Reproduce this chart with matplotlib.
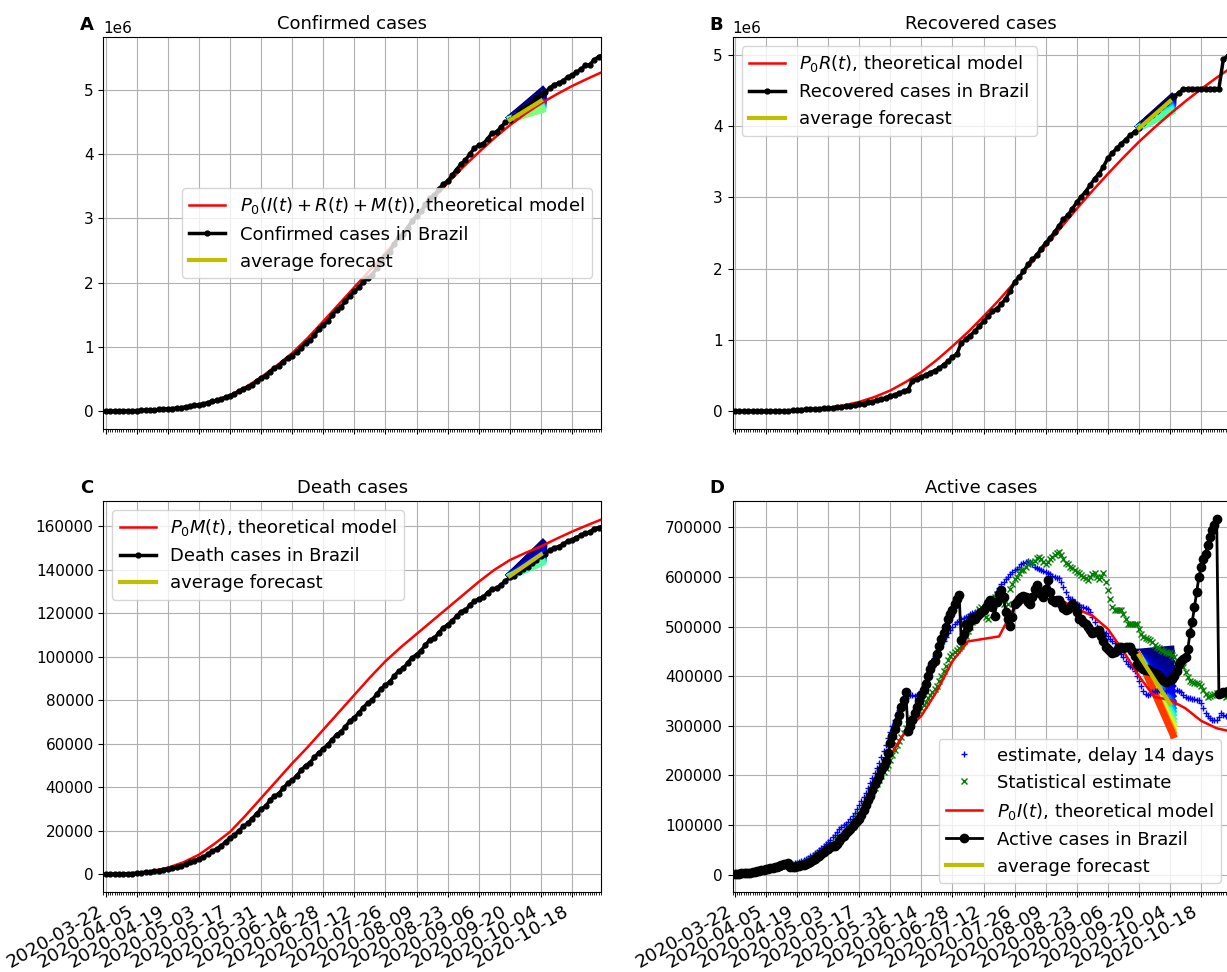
import matplotlib
matplotlib.use('Agg')
import matplotlib.pyplot as plt
import matplotlib.dates as mdates
from matplotlib import cm
import numpy as np

plt.rcParams['font.family'] = ['DejaVu Sans']
plt.rcParams['font.size'] = 11
plt.rcParams['axes.titlesize'] = 13
plt.rcParams['legend.fontsize'] = 13
plt.rcParams['xtick.labelsize'] = 13.3
plt.rcParams['ytick.labelsize'] = 11

start = np.datetime64('2020-03-22')
ticks_labels = ['2020-03-22', '2020-04-05', '2020-04-19', '2020-05-03', '2020-05-17',
                '2020-05-31', '2020-06-14', '2020-06-28', '2020-07-12', '2020-07-26',
                '2020-08-09', '2020-08-23', '2020-09-06', '2020-09-20', '2020-10-04',
                '2020-10-18']

# ---- Confirmed cases (every 2 days from 2020-03-22, thousands)
confirmed = [1.5, 2.2, 2.9, 3.9, 4.6, 6.8, 9.1, 11.1, 13.7, 17.9, 20.7, 23.4, 28.3, 33.7,
             38.7, 43.1, 49.5, 58.5, 66.5, 78.2, 91.6, 101.1, 114.7, 135.1, 155.9, 168.3,
             189.0, 218.2, 241.1, 271.6, 310.1, 347.4, 374.9, 411.8, 465.2, 514.8, 555.4,
             614.9, 672.8, 707.4, 772.4, 828.8, 867.6, 923.2, 978.1, 1067.6, 1106.5, 1188.6,
             1275.0, 1344.1, 1402.0, 1496.9, 1577.0, 1623.3, 1713.2, 1800.8, 1864.7, 1926.8,
             2012.2, 2074.9, 2118.6, 2227.5, 2343.4, 2419.1, 2483.2, 2610.1, 2707.9, 2750.3,
             2859.1, 2962.4, 3035.4, 3109.6, 3224.9, 3317.1, 3359.6, 3456.7, 3532.3, 3582.4,
             3670.0, 3761.4, 3846.2, 3908.3, 4001.4, 4091.8, 4137.5, 4162.1, 4238.4, 4330.5,
             4345.6, 4419.1, 4495.2, 4528.2, 4591.4, 4657.7, 4718.0, 4745.5, 4810.9, 4880.5,
             4915.3, 4969.1, 5028.4, 5082.6, 5103.4, 5140.9, 5200.3, 5224.4, 5274.0, 5323.6,
             5380.6, 5394.1, 5468.3, 5516.7, 5545.7]
# model, weekly (millions)
model_conf = [0.002, 0.005, 0.011, 0.021, 0.038, 0.062, 0.100, 0.160, 0.250, 0.375, 0.530,
              0.710, 0.905, 1.140, 1.400, 1.665, 1.930, 2.195, 2.460, 2.740, 3.020, 3.290,
              3.550, 3.800, 4.030, 4.250, 4.450, 4.630, 4.790, 4.930, 5.060, 5.175, 5.285]

# ---- Recovered cases (every 2 days, thousands)
recovered = [0, 0, 0, 0, 0, 0, 0, 0, 0, 0, 0, 0, 0, 14, 22, 23, 25, 27, 31, 36, 40, 43, 46,
             52, 62, 67, 73, 90, 94, 107, 127, 135, 150, 165, 190, 215, 230, 255, 280, 300,
             430, 455, 480, 510, 540, 570, 600, 650, 700, 760, 800, 960, 1010, 1060, 1120,
             1190, 1260, 1330, 1400, 1440, 1500, 1580, 1690, 1810, 1880, 1960, 2060, 2130,
             2190, 2280, 2360, 2430, 2510, 2600, 2690, 2750, 2840, 2930, 3010, 3080, 3170,
             3260, 3330, 3430, 3550, 3620, 3690, 3750, 3810, 3870, 3920, 3970, 4040, 4110,
             4160, 4210, 4270, 4330, 4380, 4420, 4470, 4520, 4526, 4526, 4526, 4526, 4526,
             4526, 4526, 4526, 4940, 4980, 5000]
model_rec = [0.0, 0.001, 0.004, 0.008, 0.016, 0.028, 0.048, 0.08, 0.13, 0.20, 0.29, 0.41,
             0.55, 0.72, 0.91, 1.11, 1.33, 1.56, 1.81, 2.06, 2.32, 2.58, 2.84, 3.09, 3.33,
             3.56, 3.78, 3.98, 4.17, 4.35, 4.52, 4.68, 4.83]

# ---- Deaths (every 2 days)
deaths = [25, 46, 77, 114, 159, 241, 359, 486, 667, 950, 1124, 1328, 1736, 2141, 2462, 2741,
          3313, 4016, 4543, 5466, 6329, 7025, 7921, 9146, 10627, 11519, 13149, 14817, 16792,
          17971, 20047, 22013, 23473, 25598, 27878, 29937, 31199, 34021, 35930, 37134, 39680,
          41828, 43332, 45241, 47748, 49976, 51271, 53830, 55961, 57622, 59594, 61884, 64265,
          65487, 67964, 70398, 72100, 74133, 76688, 78772, 80120, 82771, 85238, 87004, 88539,
          91263, 93563, 94665, 97256, 99572, 101049, 102817, 105463, 107852, 108536, 111100,
          113358, 114744, 116580, 118649, 120828, 121381, 123780, 125502, 126650, 127464,
          129522, 131210, 131625, 133119, 135031, 136532, 137272, 139065, 140537, 141406,
          143010, 144680, 146352, 147494, 148957, 150198, 150689, 151747, 153214, 153675,
          154837, 155900, 156903, 157397, 158969, 159477, 160074]
# model weekly (thousands)
model_death = [0.05, 0.2, 0.6, 1.5, 3.0, 5.5, 9.0, 14, 19.5, 27, 35, 43, 51, 58.5, 66.5, 74.5,
               82.5, 90.5, 98, 104.5, 110.5, 116.5, 122.5, 128.5, 134.5, 140, 144.5, 147.8,
               150.8, 154.3, 157.6, 160.6, 163.5]

# ---- Active cases (daily, thousands)
active = [1.5, 1.9, 2.2, 2.6, 2.9, 3.5, 3.9, 4.3, 4.6, 5.8,
          6.8, 7.9, 9.0, 10.0, 10.8, 11.8, 12.8, 14.0, 15.2, 16.5,
          18.0, 19.5, 21.0, 22.5, 23.5, 15.5, 15.0, 16.0, 17.5, 17.0,
          19.0, 20.5, 22.0, 24.0, 26.0, 29.0, 32.0, 35.0, 38.0, 42.0,
          46, 50, 52, 55, 58, 57, 62, 68, 73, 78,
          84, 88, 93, 99, 105, 109, 113, 121, 130, 140,
          150, 158, 170, 182, 190, 198, 210, 218, 230, 245,
          265, 280, 294, 308, 322, 337, 352, 369, 290, 300,
          312, 325, 338, 350, 362, 372, 385, 400, 415, 425,
          431, 445, 460, 475, 486, 500, 515, 525, 533, 545,
          555, 563, 472, 485, 506, 500, 512, 518, 515, 522,
          526, 530, 533, 540, 548, 553, 540, 522, 550, 565,
          573, 560, 530, 515, 502, 520, 546, 550, 555, 559,
          562, 559, 550, 546, 560, 575, 583, 570, 565, 559,
          575, 593, 570, 553, 550, 553, 553, 545, 538, 533,
          535, 540, 546, 540, 530, 516, 515, 510, 506, 498,
          492, 486, 488, 490, 492, 480, 470, 459, 455, 450,
          446, 448, 452, 459, 458, 456, 458, 459, 459, 450,
          440, 425, 420, 418, 415, 412, 414, 410, 408, 406,
          405, 400, 396, 392, 388, 390, 393, 395, 400, 410,
          425, 430, 435, 438, 455, 486, 510, 539, 570, 600,
          620, 635, 647, 665, 680, 694, 705, 717, 365, 367,
          368, 369, 370, 371, 372]
estimate_delay = [2, 2.5, 3, 3.5, 4, 4.5, 5, 6, 7, 8,
                  9, 10, 11, 12, 13, 14, 15, 16.5, 18, 19.5,
                  21, 22, 23, 24, 24, 23, 22, 23, 24, 26,
                  28, 30, 32, 34, 37, 40, 43, 46, 50, 54,
                  58, 62, 66, 70, 75, 80, 86, 92, 97, 100,
                  102, 106, 112, 118, 125, 132, 140, 148, 156, 165,
                  175, 185, 195, 205, 215, 225, 238, 250, 262, 275,
                  288, 300, 312, 322, 332, 340, 348, 355, 360, 362,
                  362, 360, 362, 365, 370, 380, 392, 405, 418, 430,
                  440, 450, 458, 465, 470, 478, 486, 492, 500, 505,
                  510, 512, 515, 518, 520, 522, 525, 528, 530, 532,
                  530, 528, 535, 540, 545, 550, 555, 562, 570, 578,
                  585, 590, 595, 600, 605, 610, 613, 616, 620, 625,
                  628, 630, 632, 630, 625, 620, 618, 615, 613, 612,
                  610, 608, 605, 602, 600, 598, 597, 590, 580, 570,
                  560, 555, 555, 550, 545, 543, 540, 539, 538, 535,
                  530, 520, 510, 500, 495, 490, 488, 486, 480, 475,
                  470, 466, 460, 452, 445, 438, 430, 425, 420, 418,
                  410, 400, 391, 380, 370, 365, 362, 365, 368, 370,
                  371, 372, 371, 370, 371, 372, 371, 370, 371, 372,
                  371, 368, 362, 358, 356, 355, 354, 353, 352, 351,
                  345, 335, 325, 320, 315, 312, 311, 312, 318, 325,
                  322, 320, 318, 317, 316]
statistical = [1, 1.5, 2, 2.5, 3, 3.5, 4, 4.5, 5, 5.5,
               6, 7, 8, 9, 10, 11, 12, 13, 14, 15,
               16, 17, 18, 19, 20, 20, 19, 19, 20, 21,
               22, 24, 26, 28, 30, 32, 35, 38, 41, 44,
               47, 50, 53, 56, 60, 64, 68, 72, 77, 82,
               87, 92, 98, 104, 110, 116, 122, 128, 135, 142,
               150, 158, 166, 174, 182, 190, 198, 206, 214, 222,
               232, 242, 252, 262, 270, 278, 286, 295, 303, 311,
               316, 320, 325, 330, 336, 342, 348, 355, 362, 368,
               374, 380, 390, 400, 410, 420, 432, 440, 445, 448,
               452, 456, 460, 470, 480, 490, 500, 510, 520, 528,
               535, 540, 530, 520, 515, 539, 550, 560, 566, 560,
               566, 545, 530, 545, 575, 586, 595, 600, 608, 613,
               613, 620, 625, 630, 628, 632, 637, 640, 635, 630,
               625, 630, 636, 640, 645, 648, 650, 645, 635, 628,
               625, 620, 618, 614, 610, 607, 603, 600, 597, 593,
               600, 605, 607, 600, 595, 600, 607, 590, 573, 555,
               540, 533, 533, 533, 533, 525, 515, 506, 506, 506,
               506, 506, 495, 485, 479, 477, 475, 472, 468, 463,
               459, 456, 453, 450, 448, 447, 446, 442, 438, 432,
               428, 425, 418, 408, 398, 391, 389, 387, 386, 385,
               380, 372, 365, 358, 360, 363, 365, 366, 367, 368,
               363, 358, 360, 362, 364]
model_active = [1, 3, 7, 12, 18, 28, 45, 72, 115, 170, 240, 290, 320, 370, 430, 470, 475,
                480, 540, 555, 566, 553, 535, 522, 495, 450, 400, 358, 352, 335, 310, 295, 288]

# ---- forecasts: day range, average start/end, common start, fan ends (top -> bottom)
fc_days = [181, 198]
fc_conf_avg = [4.53, 4.83]
fc_conf_start = 4.53
fc_conf_ends = [5.03, 5.01, 4.99, 4.97, 4.95, 4.93, 4.91, 4.89, 4.87, 4.85, 4.83, 4.81,
                4.79, 4.77, 4.75, 4.73, 4.71]
fc_rec_avg = [3.97, 4.35]
fc_rec_start = 3.96
fc_rec_ends = [4.44, 4.43, 4.42, 4.41, 4.40, 4.39, 4.38, 4.37, 4.36, 4.35, 4.34, 4.33,
               4.31, 4.29, 4.27, 4.25, 4.22]
fc_death_avg = [137.2, 147.1]
fc_death_start = 136.5
fc_death_ends = [153.5, 153.0, 152.4, 151.8, 151.2, 150.6, 150.0, 149.4, 148.8, 148.2, 147.6,
                 147.0, 146.4, 145.8, 145.2, 144.6, 144.0]
fc_act_avg = [442, 344]
fc_act_start = 448
fc_act_ends = [455, 445, 435, 425, 415, 405, 395, 385, 375, 365, 355, 345, 338, 331, 324,
               317, 310, 303, 296, 289, 282, 275]


def days(n, step):
    return start + np.arange(n) * np.timedelta64(step, 'D')


def draw_fan(ax, y0, ends, scale, cmax):
    n = len(ends)
    cpos = np.linspace(0, 1, n) ** 2.5 * cmax
    x = [start + np.timedelta64(fc_days[0], 'D'), start + np.timedelta64(fc_days[1], 'D')]
    for i, e in enumerate(ends):
        ax.plot(x, [y0 * scale, e * scale], color=cm.jet(cpos[i]), lw=5,
                solid_capstyle='butt')


def draw_avg(ax, vals, scale):
    x = [start + np.timedelta64(fc_days[0] + 1, 'D'), start + np.timedelta64(fc_days[1] - 2, 'D')]
    ax.plot(x, [v * scale for v in vals], color='y', lw=3, label='average forecast')


fig, axes = plt.subplots(2, 2, figsize=(12.27, 9.72), dpi=100, sharex=True)
axA, axB, axC, axD = axes[0, 0], axes[0, 1], axes[1, 0], axes[1, 1]
W, H = 1227.0, 972.0
pos = {axA: (103.4, 37, 600.9, 429), axB: (732.6, 37, 1230, 429),
       axC: (103.4, 501, 600.9, 892), axD: (732.6, 501, 1230, 892)}
for ax, (l, t, r, b) in pos.items():
    ax.set_position([l / W, 1 - b / H, (r - l) / W, (b - t) / H])

# A
draw_fan(axA, fc_conf_start, fc_conf_ends, 1e6, 0.5)
axA.plot(days(len(model_conf), 7), np.array(model_conf) * 1e6, 'r-', lw=1.8,
         label=r'$P_0(I(t)+R(t)+M(t))$, theoretical model')
axA.plot(days(len(confirmed), 2), np.array(confirmed) * 1e3, 'k.-', lw=2.5, ms=7,
         label='Confirmed cases in Brazil')
draw_avg(axA, fc_conf_avg, 1e6)
axA.set_title('Confirmed cases')
axA.legend(loc='center right')

# B
draw_fan(axB, fc_rec_start, fc_rec_ends, 1e6, 0.45)
axB.plot(days(len(model_rec), 7), np.array(model_rec) * 1e6, 'r-', lw=1.8,
         label=r'$P_0R(t)$, theoretical model')
axB.plot(days(len(recovered), 2), np.array(recovered) * 1e3, 'k.-', lw=2.5, ms=7,
         label='Recovered cases in Brazil')
draw_avg(axB, fc_rec_avg, 1e6)
axB.set_title('Recovered cases')
axB.legend(loc='upper left')

# C
draw_fan(axC, fc_death_start, fc_death_ends, 1e3, 0.45)
axC.plot(days(len(model_death), 7), np.array(model_death) * 1e3, 'r-', lw=1.8,
         label=r'$P_0M(t)$, theoretical model')
axC.plot(days(len(deaths), 2), deaths, 'k.-', lw=2.5, ms=7, label='Death cases in Brazil')
draw_avg(axC, fc_death_avg, 1e3)
axC.set_title('Death cases')
axC.legend(loc='upper left')

# D
draw_fan(axD, fc_act_start, fc_act_ends, 1e3, 0.85)
axD.plot(days(len(estimate_delay), 1), np.array(estimate_delay) * 1e3, 'b+', ms=5,
         label='estimate, delay 14 days')
axD.plot(days(len(statistical), 1), np.array(statistical) * 1e3, 'gx', ms=5,
         label='Statistical estimate')
axD.plot(days(len(model_active), 7), np.array(model_active) * 1e3, 'r-', lw=1.8,
         label=r'$P_0I(t)$, theoretical model')
axD.plot(days(len(active), 1), np.array(active) * 1e3, 'ko-', lw=2, ms=6,
         label='Active cases in Brazil')
draw_avg(axD, fc_act_avg, 1e3)
axD.set_title('Active cases')
axD.legend(loc='lower right')

tick_pos = [np.datetime64(t) for t in ticks_labels]
for ax in [axA, axB, axC, axD]:
    ax.set_xlim(start - np.timedelta64(1, 'D'), start + np.timedelta64(223, 'D'))
    ax.set_xticks(tick_pos)
    ax.xaxis.set_major_formatter(mdates.DateFormatter('%Y-%m-%d'))
    ax.xaxis.set_minor_locator(mdates.DayLocator())
    ax.grid(True)
for ax in [axA, axB]:
    ax.tick_params(axis='x', labelbottom=False)
for ax in [axC, axD]:
    plt.setp(ax.get_xticklabels(), rotation=30, ha='right')

for letter, x, y in [('A', 80, 30), ('B', 709, 30), ('C', 80, 493), ('D', 709, 493)]:
    fig.text(x / W, 1 - y / H, letter, fontsize=13, fontweight='bold')

fig.savefig('out.png', dpi=100)
